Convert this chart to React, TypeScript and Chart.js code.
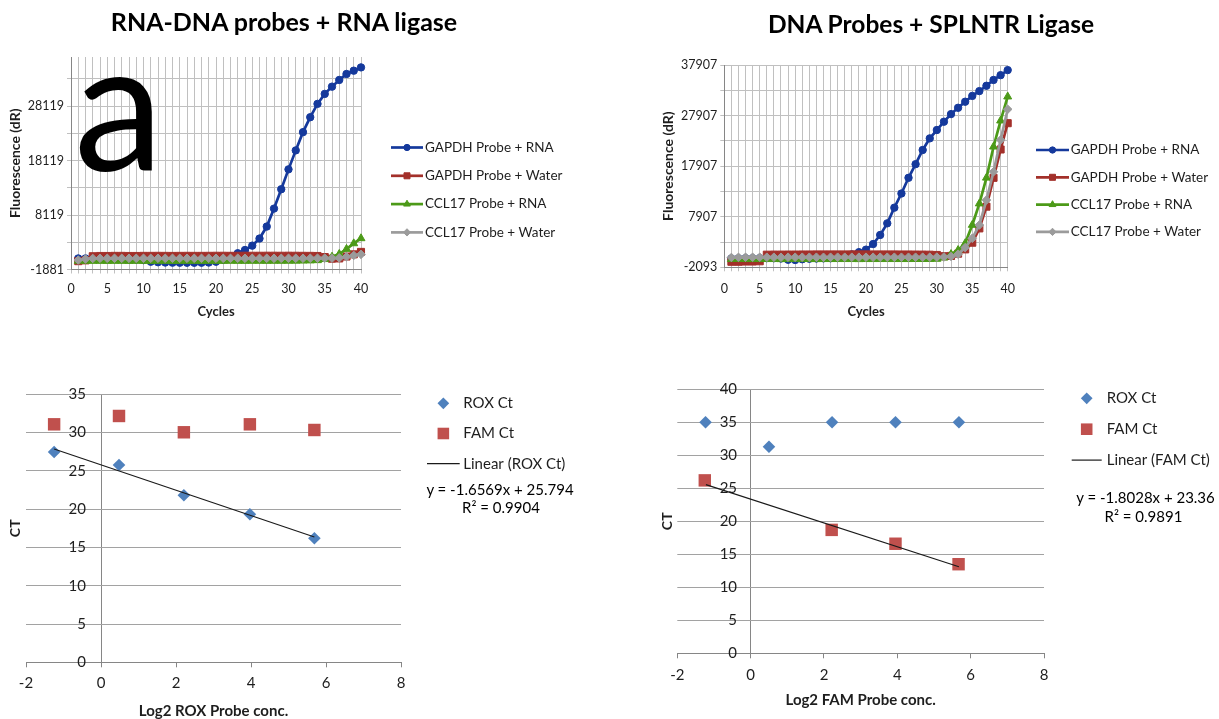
import React, { useEffect, useRef } from 'react';
import { Chart, registerables } from 'chart.js';
import { drawPoint } from 'chart.js/helpers';

Chart.register(...registerables);

const FONT = "Lato, 'Open Sans', 'DejaVu Sans', sans-serif";
Chart.defaults.font.family = FONT;

// ---------------- data: amplification curves ----------------
const CYCLES = [1, 2, 3, 4, 5, 6, 7, 8, 9, 10, 11, 12, 13, 14, 15, 16, 17, 18, 19, 20,
  21, 22, 23, 24, 25, 26, 27, 28, 29, 30, 31, 32, 33, 34, 35, 36, 37, 38, 39, 40];
const CYCLE_TICKS = [0, 1, 2, 3, 4, 5, 6, 7, 8, 9, 10, 11, 12, 13, 14, 15, 16, 17, 18, 19, 20,
  21, 22, 23, 24, 25, 26, 27, 28, 29, 30, 31, 32, 33, 34, 35, 36, 37, 38, 39, 40];
const CYCLE_LABELS = [0, 5, 10, 15, 20, 25, 30, 35, 40];
const SERIES_NAMES = ['GAPDH Probe + RNA', 'GAPDH Probe + Water', 'CCL17 Probe + RNA', 'CCL17 Probe + Water'];

// RNA-DNA probes + RNA ligase
const TL_GAPDH_RNA = [150, 150, 120, 100, 80, 50, 20, 0, -50, -150,
  -450, -550, -600, -620, -630, -640, -640, -630, -600, -450,
  -100, 500, 1100, 1700, 2500, 3800, 6000, 9300, 12850, 16500,
  19980, 23330, 26070, 28520, 30350, 31680, 32910, 34000, 34610, 35210];
const TL_GAPDH_WATER = [-350, -200, 550, 600, 600, 620, 620, 600, 600, 620,
  620, 630, 620, 610, 620, 630, 620, 620, 630, 640,
  640, 630, 640, 650, 640, 640, 650, 650, 640, 650,
  640, 630, 620, 600, 400, 100, 150, 500, 900, 1350];
const TL_CCL17_RNA = [-300, -320, -330, -330, -340, -330, -330, -340, -330, -330,
  -340, -330, -330, -340, -330, -330, -330, -340, -330, -330,
  -330, -320, -330, -330, -320, -320, -330, -320, -320, -310,
  -300, -280, -250, -200, 0, 450, 950, 1870, 2900, 3830];
const TL_CCL17_WATER = [-150, 50, 150, 170, 170, 180, 170, 170, 170, 180,
  170, 170, 170, 180, 170, 170, 170, 170, 180, 170,
  170, 170, 180, 170, 170, 170, 180, 170, 170, 180,
  180, 180, 190, 190, 200, 200, 250, 450, 700, 900];
const TL_Y_MIN = -1881;
const TL_Y_MAX = 37119;
const TL_Y_GRID = [-1881, 3119, 8119, 13119, 18119, 23119, 28119, 33119];
const TL_Y_LABELS = [-1881, 8119, 18119, 28119];

// DNA Probes + SPLNTR Ligase
const TR_GAPDH_RNA = [-350, -330, -300, -300, -280, -280, -300, -350, -600, -650,
  -500, -400, -350, -320, -300, -250, 100, 450, 900, 1400,
  2500, 4300, 6600, 9700, 12500, 15600, 18300, 21100, 23400, 25050,
  26700, 28200, 29450, 30650, 31800, 32750, 33800, 34950, 35900, 36900];
const TR_GAPDH_WATER = [-1000, -1000, -950, -950, -900, 400, 420, 420, 430, 430,
  440, 440, 450, 450, 450, 450, 450, 460, 460, 460,
  450, 450, 450, 450, 440, 440, 430, 420, 400, 350,
  100, 150, 600, 1450, 2770, 5600, 9900, 15600, 21200, 26400];
const TR_CCL17_RNA = [-500, -480, -500, -500, -500, -500, -500, -510, -500, -500,
  -500, -500, -510, -500, -500, -500, -500, -500, -510, -500,
  -500, -500, -500, -500, -500, -500, -490, -490, -480, -450,
  -200, 500, 1300, 2650, 6270, 10500, 15600, 21750, 26900, 31650];
const TR_CCL17_WATER = [-150, -120, -100, -100, -100, -100, -100, -110, -100, -100,
  -100, -100, -100, -110, -100, -100, -100, -100, -100, -100,
  -100, -100, -100, -100, -100, -100, -100, -90, -90, -80,
  -50, 50, 500, 1800, 3640, 6270, 11200, 16800, 23100, 29150];
const TR_Y_MIN = -2093;
const TR_Y_MAX = 37907;
const TR_Y_GRID = [-2093, 2907, 7907, 12907, 17907, 22907, 27907, 32907, 37907];
const TR_Y_LABELS = [-2093, 7907, 17907, 27907, 37907];

// ---------------- data: standard curves ----------------
const LOG2_TICKS = [-2, 0, 2, 4, 6, 8];
const BL_CT_TICKS = [0, 5, 10, 15, 20, 25, 30, 35];
const BR_CT_TICKS = [0, 5, 10, 15, 20, 25, 30, 35, 40];

const BL_X = [-1.25, 0.48, 2.21, 3.97, 5.69];
const BL_ROX = [27.47, 25.77, 21.81, 19.33, 16.2];
const BL_FAM = [31.08, 32.17, 30.04, 31.08, 30.34];
const BL_TREND_X = [-1.25, 5.69];
const BL_TREND_Y = [27.86, 16.37];

const BR_ROX_X = [-1.23, 0.5, 2.22, 3.95, 5.68];
const BR_ROX = [35, 31.3, 35, 35, 35];
const BR_FAM_X = [-1.25, 2.21, 3.95, 5.67];
const BR_FAM = [26.2, 18.7, 16.6, 13.5];
const BR_TREND_X = [-1.22, 5.68];
const BR_TREND_Y = [25.56, 13.12];

// ---------------- styles ----------------
const TEXT = '#1e1e1e';
const GRID_TOP = '#c0c0c0';
const GRID_BOTTOM = '#a2a2a2';
const AXIS = '#868686';
const CLEAR = 'rgba(0,0,0,0)';
const ROX_COLOR = '#4F81BD';
const FAM_COLOR = '#C0504D';
const TOP_STYLES = [
  { color: '#15399C', pointStyle: 'circle', radius: 3.7 },
  { color: '#A3302A', pointStyle: 'rect', radius: 5 },
  { color: '#4C9A18', pointStyle: 'triangle', radius: 4.6 },
  { color: '#9B9B9B', pointStyle: 'rectRot', radius: 4.3 },
];

const pts = (xs: number[], ys: number[]) => xs.map((x, i) => ({ x, y: ys[i] }));

// legend drawn Excel-style (line sample with marker) next to the plot area
const excelLegend = {
  id: 'excelLegend',
  afterDraw(chart: any, _args: any, opts: any) {
    const { ctx, chartArea } = chart;
    ctx.save();
    chart.data.datasets.forEach((d: any, i: number) => {
      const y = chartArea.top + opts.top + i * opts.spacing;
      const xs = chartArea.right + opts.lineStart;
      const xe = chartArea.right + opts.lineEnd;
      if (d.showLine) {
        ctx.strokeStyle = d.borderColor;
        ctx.lineWidth = d.borderWidth;
        ctx.beginPath();
        ctx.moveTo(xs, y);
        ctx.lineTo(xe, y);
        ctx.stroke();
      }
      if (d.pointRadius > 0) {
        ctx.fillStyle = d.pointBackgroundColor;
        ctx.strokeStyle = d.pointBorderColor;
        ctx.lineWidth = d.pointBorderWidth || 0;
        drawPoint(ctx, {
          pointStyle: d.pointStyle,
          radius: d.pointRadius * opts.markerScale,
          rotation: 0,
          borderWidth: d.pointBorderWidth || 0,
        }, (xs + xe) / 2, y);
      }
      ctx.fillStyle = opts.color;
      ctx.font = opts.font;
      ctx.textAlign = 'left';
      ctx.textBaseline = 'middle';
      ctx.fillText(d.label, chartArea.right + opts.textX, y);
    });
    ctx.restore();
  },
};

function topConfig(p: any) {
  return {
    type: 'line',
    data: {
      datasets: SERIES_NAMES.map((name, k) => {
        const st = TOP_STYLES[k];
        return {
          label: name,
          data: pts(CYCLES, p.series[k]),
          borderColor: st.color,
          backgroundColor: st.color,
          pointBackgroundColor: st.color,
          pointBorderColor: st.color,
          pointBorderWidth: 1,
          pointStyle: st.pointStyle,
          pointRadius: st.radius,
          borderWidth: 2.7,
          tension: 0,
          showLine: true,
          clip: false,
          order: 4 - k,
        };
      }),
    },
    options: {
      responsive: false,
      animation: false,
      events: [],
      layout: { padding: p.pad },
      plugins: {
        legend: { display: false },
        tooltip: { enabled: false },
        excelLegend: { ...p.legend, font: '13.5px ' + FONT, color: TEXT, markerScale: 0.85 },
      },
      scales: {
        x: {
          type: 'linear',
          min: 0,
          max: 40,
          afterBuildTicks: (s: any) => { s.ticks = CYCLE_TICKS.map((v) => ({ value: v })); },
          ticks: {
            autoSkip: false,
            maxRotation: 0,
            padding: p.xTickPad,
            color: TEXT,
            font: { size: 12.5 },
            callback: (v: number) => (CYCLE_LABELS.includes(v) ? String(v) : ''),
          },
          grid: { color: GRID_TOP, tickColor: GRID_TOP, tickLength: 4 },
          border: { color: AXIS },
          title: {
            display: true, text: 'Cycles', color: TEXT,
            font: { size: 13, weight: 'bold' }, padding: { top: 4, bottom: 4 },
          },
          afterFit: (s: any) => { s.height = p.xHeight; },
        },
        y: {
          type: 'linear',
          min: p.yMin,
          max: p.yMax,
          afterBuildTicks: (s: any) => { s.ticks = p.yGrid.map((v: number) => ({ value: v })); },
          ticks: {
            autoSkip: false,
            padding: 3,
            color: TEXT,
            font: { size: 12.5 },
            callback: (v: number) => (p.yLabels.includes(v) ? String(v) : ''),
          },
          grid: { color: GRID_TOP, tickColor: GRID_TOP, tickLength: 4 },
          border: { color: AXIS },
          title: {
            display: true, text: 'Fluorescence (dR)', color: TEXT,
            font: { size: 14, weight: 'bold' }, padding: { top: 4, bottom: 4 },
          },
          afterFit: (s: any) => { s.width = p.yWidth; },
        },
      },
    },
    plugins: [excelLegend],
  };
}

function bottomConfig(p: any) {
  return {
    type: 'scatter',
    data: {
      datasets: [
        {
          label: 'ROX Ct', data: pts(p.roxX, p.rox), xAxisID: 'x', yAxisID: 'y',
          pointStyle: 'rectRot', pointRadius: 6.3, pointBorderWidth: 0,
          pointBackgroundColor: ROX_COLOR, pointBorderColor: ROX_COLOR,
          backgroundColor: ROX_COLOR, borderColor: ROX_COLOR, showLine: false, order: 3, clip: false,
        },
        {
          label: 'FAM Ct', data: pts(p.famX, p.fam), xAxisID: 'x', yAxisID: 'y',
          pointStyle: 'rect', pointRadius: 8.8, pointBorderWidth: 0,
          pointBackgroundColor: FAM_COLOR, pointBorderColor: FAM_COLOR,
          backgroundColor: FAM_COLOR, borderColor: FAM_COLOR, showLine: false, order: 2, clip: false,
        },
        {
          label: p.trendLabel, data: pts(p.trendX, p.trendY), xAxisID: 'x', yAxisID: 'y',
          showLine: true, pointRadius: 0, borderColor: '#1a1a1a', backgroundColor: '#1a1a1a',
          borderWidth: 1.2, order: 1,
        },
      ],
    },
    options: {
      responsive: false,
      animation: false,
      events: [],
      layout: { padding: p.pad },
      plugins: {
        legend: { display: false },
        tooltip: { enabled: false },
        excelLegend: { ...p.legend, font: '15px ' + FONT, color: TEXT, markerScale: 0.93 },
      },
      scales: {
        x: {
          type: 'linear',
          min: -2,
          max: 8,
          afterBuildTicks: (s: any) => { s.ticks = LOG2_TICKS.map((v) => ({ value: v })); },
          ticks: { autoSkip: false, maxRotation: 0, padding: p.xTickPad, color: TEXT, font: { size: 15 } },
          // only the gridline at x = 0 is shown: it is the vertical (CT) axis line
          grid: {
            drawOnChartArea: true, drawTicks: true, tickLength: 5, tickColor: AXIS,
            color: (c: any) => (c.tick && c.tick.value === 0 ? AXIS : CLEAR),
          },
          border: { color: AXIS },
          title: {
            display: true, text: p.xTitle, color: TEXT,
            font: { size: 15, weight: 'bold' }, padding: { top: 4, bottom: 0 },
          },
          afterFit: (s: any) => { s.height = p.xHeight; },
        },
        y: {
          type: 'linear',
          position: { x: p.yLabelAt },
          min: 0,
          max: p.yMax,
          afterBuildTicks: (s: any) => { s.ticks = p.yTicks.map((v: number) => ({ value: v })); },
          ticks: { autoSkip: false, padding: 0, color: TEXT, font: { size: 15 } },
          grid: { color: GRID_BOTTOM, drawTicks: false },
          border: { display: false },
        },
        yT: {
          type: 'linear',
          position: 'left',
          min: 0,
          max: 1,
          grid: { display: false },
          ticks: { display: false },
          border: { display: false },
          title: {
            display: true, text: 'CT', color: TEXT,
            font: { size: 14, weight: 'bold' }, padding: { top: 4, bottom: 4 },
          },
          afterFit: (s: any) => { s.width = p.yWidth; },
        },
      },
    },
    plugins: [excelLegend],
  };
}

function ChartPanel(props: { left: number; top: number; width: number; height: number; make: () => any }) {
  const ref = useRef<HTMLCanvasElement>(null);
  useEffect(() => {
    const chart = new Chart(ref.current as HTMLCanvasElement, props.make() as any);
    return () => chart.destroy();
  }, []);
  return (
    <canvas
      ref={ref}
      width={props.width}
      height={props.height}
      style={{ position: 'absolute', left: props.left, top: props.top, width: props.width, height: props.height }}
    />
  );
}

function Text(props: { x: number; y: number; w: number; size: number; bold?: boolean; lh?: number; children: any }) {
  return (
    <div
      style={{
        position: 'absolute', left: props.x - props.w / 2, top: props.y, width: props.w,
        textAlign: 'center', whiteSpace: 'nowrap', fontFamily: FONT, fontSize: props.size,
        fontWeight: props.bold ? 700 : 400, lineHeight: (props.lh || props.size) + 'px', color: '#000',
      }}
    >
      {props.children}
    </div>
  );
}

export default function App() {
  return (
    <div style={{ position: 'absolute', left: 0, top: 0, width: 1219, height: 719, overflow: 'hidden', background: '#fff' }}>
      <ChartPanel
        left={0} top={0} width={600} height={330}
        make={() => topConfig({
          series: [TL_GAPDH_RNA, TL_GAPDH_WATER, TL_CCL17_RNA, TL_CCL17_WATER],
          yMin: TL_Y_MIN, yMax: TL_Y_MAX, yGrid: TL_Y_GRID, yLabels: TL_Y_LABELS,
          pad: { left: 2.6, right: 239, top: 57, bottom: 6.3 },
          yWidth: 68.4, xHeight: 54.2, xTickPad: 8.3,
          legend: { top: 90.5, spacing: 28.3, lineStart: 30, lineEnd: 62, textX: 64 },
        })}
      />
      <ChartPanel
        left={650} top={0} width={569} height={330}
        make={() => topConfig({
          series: [TR_GAPDH_RNA, TR_GAPDH_WATER, TR_CCL17_RNA, TR_CCL17_WATER],
          yMin: TR_Y_MIN, yMax: TR_Y_MAX, yGrid: TR_Y_GRID, yLabels: TR_Y_LABELS,
          pad: { left: 5.9, right: 211.3, top: 65, bottom: 6.3 },
          yWidth: 68.4, xHeight: 56.4, xTickPad: 10.5,
          legend: { top: 85, spacing: 27.3, lineStart: 28.3, lineEnd: 61.3, textX: 63 },
        })}
      />
      <ChartPanel
        left={0} top={360} width={600} height={360}
        make={() => bottomConfig({
          roxX: BL_X, rox: BL_ROX, famX: BL_X, fam: BL_FAM,
          trendX: BL_TREND_X, trendY: BL_TREND_Y, trendLabel: 'Linear (ROX Ct)',
          xTitle: 'Log2 ROX Probe conc.', yMax: 35, yTicks: BL_CT_TICKS, yLabelAt: -0.4,
          pad: { left: 3, right: 199, top: 34.3, bottom: 0 },
          yWidth: 23, xHeight: 57.7, xTickPad: 7,
          legend: { top: 9, spacing: 30.2, lineStart: 26, lineEnd: 58.7, textX: 62.3 },
        })}
      />
      <ChartPanel
        left={650} top={360} width={569} height={359}
        make={() => bottomConfig({
          roxX: BR_ROX_X, rox: BR_ROX, famX: BR_FAM_X, fam: BR_FAM,
          trendX: BR_TREND_X, trendY: BR_TREND_Y, trendLabel: 'Linear (FAM Ct)',
          xTitle: 'Log2 FAM Probe conc.', yMax: 40, yTicks: BR_CT_TICKS, yLabelAt: -0.37,
          pad: { left: 4.7, right: 175, top: 29.3, bottom: 10 },
          yWidth: 22.6, xHeight: 55.7, xTickPad: 7.7,
          legend: { top: 9, spacing: 30.9, lineStart: 27.7, lineEnd: 57.7, textX: 62.7 },
        })}
      />
      <Text x={284} y={8.5} w={520} size={25} bold>RNA-DNA probes + RNA ligase</Text>
      <Text x={931} y={12} w={520} size={24.5} bold>DNA Probes + SPLNTR Ligase</Text>
      <div
        style={{
          position: 'absolute', left: 74, top: 11, fontFamily: FONT, fontSize: 180,
          lineHeight: '180px', color: '#000',
        }}
      >
        a
      </div>
      <Text x={500} y={481} w={240} size={15} lh={17}>y = -1.6569x + 25.794</Text>
      <Text x={501} y={498.5} w={240} size={15} lh={17}>R² = 0.9904</Text>
      <Text x={1145.5} y={489} w={200} size={15} lh={17}>y = -1.8028x + 23.36</Text>
      <Text x={1143.5} y={508} w={200} size={15} lh={17}>R² = 0.9891</Text>
    </div>
  );
}
